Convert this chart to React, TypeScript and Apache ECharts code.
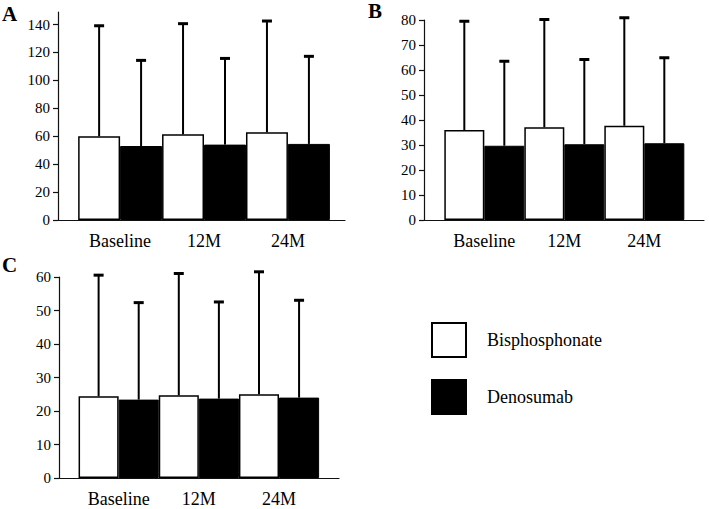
import React, { useEffect, useRef } from "react";
import * as echarts from "echarts";

const categories = ["Baseline", "12M", "24M"];
const seriesNames = ["Bisphosphonate", "Denosumab"];

// Panel A
const aBisMean = [60, 61.4, 62.8];
const aBisUpper = [139.5, 141, 142.9];
const aDenMean = [53, 54, 54.5];
const aDenUpper = [114.7, 116.1, 117.6];
const aTicks = [0, 20, 40, 60, 80, 100, 120, 140];

// Panel B
const bBisMean = [36, 37.1, 37.7];
const bBisUpper = [79.7, 80.4, 81.1];
const bDenMean = [29.7, 30.3, 30.7];
const bDenUpper = [63.7, 64.4, 65.1];

// Panel C
const cBisMean = [24.4, 24.7, 25.0];
const cBisUpper = [60.7, 61.2, 61.7];
const cDenMean = [23.4, 23.7, 24.0];
const cDenUpper = [52.5, 52.7, 53.2];

const FONT = "Liberation Serif";

export default function App() {
  const ref = useRef<HTMLDivElement>(null);
  useEffect(() => {
    if (!ref.current) return;
    const chart = echarts.init(ref.current, null, { renderer: "svg" });

    const grids = [
      { left: 58, top: 12, width: 287, height: 208 },
      { left: 424, top: 20, width: 280, height: 200 },
      { left: 59, top: 277, width: 280, height: 201 },
    ];
    const xRanges = [
      [-0.74, 2.68],
      [-0.754, 2.746],
      [-0.744, 2.748],
    ];
    const yCfg = [
      { max: 149, ticks: aTicks },
      { max: 80, interval: 10 },
      { max: 60, interval: 10 },
    ];

    const xAxis = grids.map((_, i) => ({
      type: "value",
      gridIndex: i,
      min: xRanges[i][0],
      max: xRanges[i][1],
      splitLine: { show: false },
      axisLine: { show: true, onZero: false, lineStyle: { color: "#111", width: 1.2 } },
      axisTick: { show: false },
      axisLabel: {
        customValues: [0, 1, 2],
        formatter: (v: number) => categories[Math.round(v)] ?? "",
        color: "#000",
        fontFamily: FONT,
        fontSize: 18,
        margin: 12,
      },
    }));

    const yAxis = yCfg.map((c: any, i) => {
      const ax: any = {
        type: "value",
        gridIndex: i,
        min: 0,
        max: c.max,
        splitLine: { show: false },
        axisLine: { show: true, onZero: false, lineStyle: { color: "#111", width: 1.2 } },
        axisTick: { show: true, length: 5, lineStyle: { color: "#111", width: 1.2 } },
        axisLabel: { color: "#000", fontFamily: FONT, fontSize: 15, margin: 8 },
      };
      if (c.ticks) {
        ax.axisLabel.customValues = c.ticks;
        ax.axisTick.customValues = c.ticks;
      } else {
        ax.interval = c.interval;
      }
      return ax;
    });

    const panels = [
      [aBisMean, aBisUpper, aDenMean, aDenUpper],
      [bBisMean, bBisUpper, bDenMean, bDenUpper],
      [cBisMean, cBisUpper, cDenMean, cDenUpper],
    ];

    const makeErr = (gi: number, means: number[], ups: number[], side: number) => ({
      type: "custom",
      xAxisIndex: gi,
      yAxisIndex: gi,
      z: 5,
      silent: true,
      data: means.map((m, i) => [i, m, ups[i]]),
      encode: { x: 0, y: [1, 2] },
      renderItem: (_p: any, api: any) => {
        const x = api.value(0);
        const m = api.value(1);
        const u = api.value(2);
        const half = api.size([1, 0])[0] / 4;
        const p0 = api.coord([x, m]);
        const p1 = api.coord([x, u]);
        const cx = p0[0] + side * half;
        return {
          type: "group",
          children: [
            { type: "line", shape: { x1: cx, y1: p0[1], x2: cx, y2: p1[1] }, style: { stroke: "#000", lineWidth: 2 } },
            { type: "line", shape: { x1: cx - 5, y1: p1[1] + 0.5, x2: cx + 5, y2: p1[1] + 0.5 }, style: { stroke: "#000", lineWidth: 3 } },
          ],
        };
      },
    });

    const series: any[] = [];
    panels.forEach((p, gi) => {
      series.push({
        type: "bar",
        name: seriesNames[0],
        xAxisIndex: gi,
        yAxisIndex: gi,
        data: p[0].map((v, i) => [i, v]),
        barWidth: "50%",
        barGap: "0%",
        itemStyle: { color: "#fff", borderColor: "#000", borderWidth: 1.5 },
      });
      series.push({
        type: "bar",
        name: seriesNames[1],
        xAxisIndex: gi,
        yAxisIndex: gi,
        data: p[2].map((v, i) => [i, v]),
        barWidth: "50%",
        barGap: "0%",
        itemStyle: { color: "#000", borderColor: "#000", borderWidth: 1 },
      });
      series.push(makeErr(gi, p[0], p[1], -1));
      series.push(makeErr(gi, p[2], p[3], 1));
    });

    chart.setOption({
      animation: false,
      textStyle: { fontFamily: FONT },
      grid: grids,
      xAxis,
      yAxis,
      series,
      legend: {
        data: seriesNames,
        orient: "vertical",
        left: 431,
        top: 322,
        padding: 0,
        icon: "rect",
        itemWidth: 34,
        itemHeight: 34,
        itemGap: 21,
        selectedMode: false,
        textStyle: { color: "#000", fontFamily: FONT, fontSize: 18, padding: [0, 0, 0, 16] },
      },
      graphic: [
        { type: "text", left: 2, top: 3, style: { text: "A", fontFamily: FONT, fontWeight: "bold", fontSize: 21, fill: "#000" } },
        { type: "text", left: 368, top: 0, style: { text: "B", fontFamily: FONT, fontWeight: "bold", fontSize: 21, fill: "#000" } },
        { type: "text", left: 2, top: 254, style: { text: "C", fontFamily: FONT, fontWeight: "bold", fontSize: 21, fill: "#000" } },
      ],
    });
    return () => chart.dispose();
  }, []);
  return <div ref={ref} style={{ position: "absolute", left: 0, top: 0, width: 709, height: 509 }} />;
}
